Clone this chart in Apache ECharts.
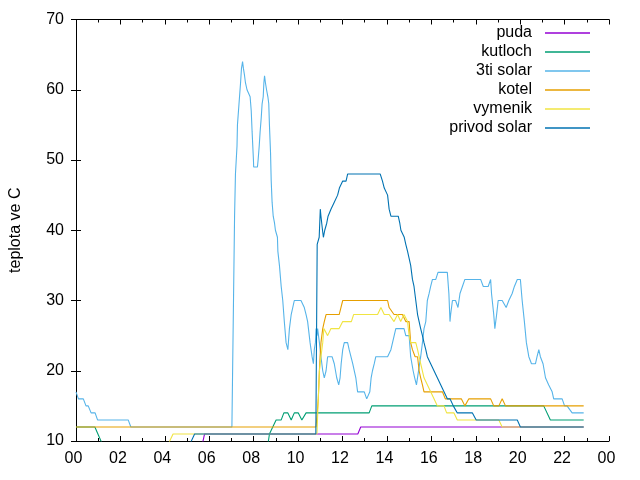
<!DOCTYPE html>
<html>
<head>
<meta charset="utf-8">
<script src="https://cdn.jsdelivr.net/npm/echarts@6/dist/echarts.min.js"></script>
<style>html,body{margin:0;padding:0;background:#fff}#c{width:640px;height:480px}</style>
</head>
<body>
<div id="c"></div>
<script>
// hours of day (0-24), temperature in deg C
var seriesNames = ['puda', 'kutloch', '3ti solar', 'kotel', 'vymenik', 'privod solar'];
var xTicks = [0, 2, 4, 6, 8, 10, 12, 14, 16, 18, 20, 22, 24];
var yTicks = [10, 20, 30, 40, 50, 60, 70];

var puda = [[0,9],[5.65,9],[5.79,11],[12.69,11],[12.82,12],[22.86,12]];

var kutloch = [[0,12],[0.85,12],[1.26,9],[8.62,9],[8.71,11],[9.01,13],[9.24,13],[9.36,14],[9.54,14],[9.69,13],[9.83,14],[10.01,14],[10.17,13],[10.36,14],[13.2,14],[13.32,15],[21.06,15],[21.36,13],[22.86,13]];

var solar3 = [[0,17],[0.11,16],[0.33,16],[0.45,15],[0.55,15],[0.68,14],[0.86,14],[0.97,13],[2.35,13],[2.47,12],[7.02,12],
[7.14,42],[7.18,48],[7.25,52],[7.27,55],[7.34,58],[7.41,61],[7.45,63],[7.50,64],[7.54,63],[7.59,62],[7.63,61],[7.70,60],[7.84,59],[7.89,57],[7.93,54],[7.99,50],[8.0,49],[8.17,49],[8.20,50],[8.25,52],[8.29,54],[8.34,56],[8.38,58],[8.43,59],[8.46,61],[8.49,62],[8.53,61],[8.58,60],[8.64,59],[8.68,58],[8.71,55],[8.76,51],[8.79,47],[8.83,44],[8.88,42],[8.94,41],[8.98,40],[9.03,40],[9.07,39],[9.09,37],[9.16,35],[9.24,32],[9.31,30],[9.38,27],[9.46,24],[9.54,23],[9.61,26],[9.69,28],[9.83,30],[9.99,30],[10.13,30],[10.28,29],[10.36,28],[10.43,27],[10.54,24],[10.63,22],[10.69,21],[10.73,23],[10.78,24],[10.81,26],[10.85,25],[10.88,26],[10.96,24],[11.03,22],[11.11,20],[11.18,19],[11.26,20],[11.33,22],[11.41,22],[11.53,22],[11.63,21],[11.74,19],[11.83,18],[11.89,19],[11.94,21],[12.01,23],[12.08,24],[12.16,24],[12.23,24],[12.30,23],[12.46,21],[12.60,19],[12.68,17],[12.83,17],[12.98,17],[13.09,16],[13.17,16],[13.23,17],[13.29,19],[13.35,20],[13.43,21],[13.50,22],[14.03,22],[14.18,23],[14.40,26],[14.48,26],[14.77,26],[14.85,25],[15.0,25],[15.07,22],[15.18,20],[15.25,19],[15.33,18],[15.38,18],[15.52,22],[15.6,24],[15.67,26],[15.75,27],[15.82,30],[15.9,31],[15.97,32],[16.05,33],[16.2,33],[16.3,34],[16.72,34],[16.79,31],[16.84,27],[16.87,28],[16.95,30],[17.02,30],[17.09,30],[17.2,29],[17.29,31],[17.4,32],[17.51,33],[18.22,33],[18.34,32],[18.44,32],[18.56,32],[18.67,33],[18.71,31],[18.81,28],[18.86,26],[18.94,28],[19.01,30],[19.08,30],[19.19,30],[19.26,30],[19.37,29],[19.49,30],[19.64,31],[19.74,32],[19.87,33],[20.01,33],[20.09,30],[20.19,27],[20.28,24],[20.39,22],[20.51,21],[20.69,21],[20.76,22],[20.84,23],[20.91,22],[21.03,21],[21.14,19],[21.28,18],[21.44,17],[21.51,16],[21.89,16],[22.0,15],[22.11,15],[22.34,14],[22.86,14]];

var kotel = [[0,12],[10.81,12],[10.91,16],[10.96,20],[10.99,22],[11.03,24],[11.11,26],[11.18,27],[11.26,28],[11.85,28],[11.93,29],[12.01,30],[14.03,30],[14.10,29],[14.18,29],[14.32,28],[14.70,28],[14.77,28],[14.85,27],[15.0,27],[15.07,24],[15.15,23],[15.27,22],[15.38,22],[15.45,20],[15.52,19],[15.60,18],[15.67,17],[16.5,17],[16.63,16],[17.35,16],[17.51,15],[17.69,16],[18.67,16],[18.81,15],[19.04,15],[19.19,16],[19.34,15],[22.86,15]];

var vymenik = [[0,9],[4.07,9],[4.37,11],[10.85,11],[10.91,16],[10.96,20],[11.03,22],[11.11,24],[11.16,26],[11.33,25],[11.48,26],[11.85,26],[12.01,27],[12.40,27],[12.50,28],[13.58,28],[13.73,29],[13.88,28],[14.10,28],[14.32,27],[14.48,28],[14.62,27],[14.77,28],[14.93,27],[15.0,25],[15.07,24],[15.30,24],[15.38,23],[15.45,22],[15.52,21],[15.67,19],[15.82,18],[15.97,17],[16.12,16],[16.27,15],[16.57,15],[16.69,14],[17.02,14],[17.17,13],[19.04,13],[19.19,12],[22.86,12]];

var privod = [[0,9],[5.05,9],[5.34,11],[10.80,11],[10.86,38],[10.95,39],[11.0,43],[11.03,42],[11.1,40],[11.14,39],[11.2,40],[11.29,41],[11.35,42],[11.48,43],[11.63,44],[11.78,45],[11.86,46],[12.01,47],[12.16,47],[12.23,48],[13.70,48],[13.80,47],[13.88,46],[13.95,46],[14.03,45],[14.10,43],[14.18,42],[14.51,42],[14.58,41],[14.63,40],[14.70,40],[14.78,39],[14.85,38],[14.93,37],[15.0,36],[15.07,35],[15.15,33],[15.22,32],[15.30,30],[15.38,28],[15.45,27],[15.52,26],[15.60,25],[15.67,24],[15.75,23],[15.82,22],[15.97,21],[16.12,20],[16.27,19],[16.42,18],[16.57,17],[16.72,16],[16.84,16],[16.99,15],[17.17,14],[17.85,14],[18.02,13],[19.87,13],[20.01,12],[22.86,12]];

var seriesData = [puda, kutloch, solar3, kotel, vymenik, privod];
var colors = ['#9400d3', '#009e73', '#56b4e9', '#e69f00', '#f0e442', '#0072b2'];

var FONT = '"Liberation Sans", Arial, sans-serif';
var chart = echarts.init(document.getElementById('c'), null, {renderer: 'canvas'});

function pad(v) { var h = Math.round(v) % 24; return (h < 10 ? '0' : '') + h; }

var xBase = {
  type: 'value', min: xTicks[0], max: xTicks[xTicks.length - 1], interval: 2,
  axisLine: {show: true, lineStyle: {color: '#000', width: 1}},
  axisTick: {show: true, inside: true, length: 5, lineStyle: {color: '#000'}},
  minorTick: {show: true, splitNumber: 2, length: 3, lineStyle: {color: '#000'}},
  splitLine: {show: false}, minorSplitLine: {show: false}
};
var yBase = {
  type: 'value', min: yTicks[0], max: yTicks[yTicks.length - 1], interval: 10,
  axisLine: {show: true, lineStyle: {color: '#000', width: 1}},
  axisTick: {show: true, inside: true, length: 5, lineStyle: {color: '#000'}},
  splitLine: {show: false}
};

var legends = seriesNames.map(function (n, i) {
  return {
    data: [n], right: 50, top: 25 + i * 19, orient: 'vertical', align: 'right',
    icon: 'rect', itemWidth: 45, itemHeight: 1.5, padding: 0,
    textStyle: {fontFamily: FONT, fontSize: 16, color: '#000', padding: [0, 8, 0, 0]}
  };
});

var option = {
  animation: false,
  backgroundColor: '#fff',
  color: colors,
  grid: {left: 74, right: 31, top: 19.5, bottom: 39, containLabel: false},
  legend: legends,
  xAxis: [
    Object.assign({}, xBase, {position: 'bottom',
      axisLabel: {show: true, formatter: pad, fontFamily: FONT, fontSize: 16, color: '#000', margin: 10, padding: [0, 5, 0, 0]}}),
    Object.assign({}, xBase, {position: 'top', axisLabel: {show: false}})
  ],
  yAxis: [
    Object.assign({}, yBase, {position: 'left', name: 'teplota ve C', nameLocation: 'middle', nameGap: 52,
      nameTextStyle: {fontFamily: FONT, fontSize: 16, color: '#000'},
      axisLabel: {show: true, fontFamily: FONT, fontSize: 16, color: '#000', margin: 12}}),
    Object.assign({}, yBase, {position: 'right', axisLabel: {show: false}})
  ],
  series: seriesNames.map(function (n, i) {
    return {
      name: n, type: 'line', data: seriesData[i], xAxisIndex: 0, yAxisIndex: 0,
      showSymbol: false, symbol: 'none', clip: true,
      lineStyle: {width: 1.1, color: colors[i]}, itemStyle: {color: colors[i]}
    };
  })
};
chart.setOption(option);
</script>
</body>
</html>
